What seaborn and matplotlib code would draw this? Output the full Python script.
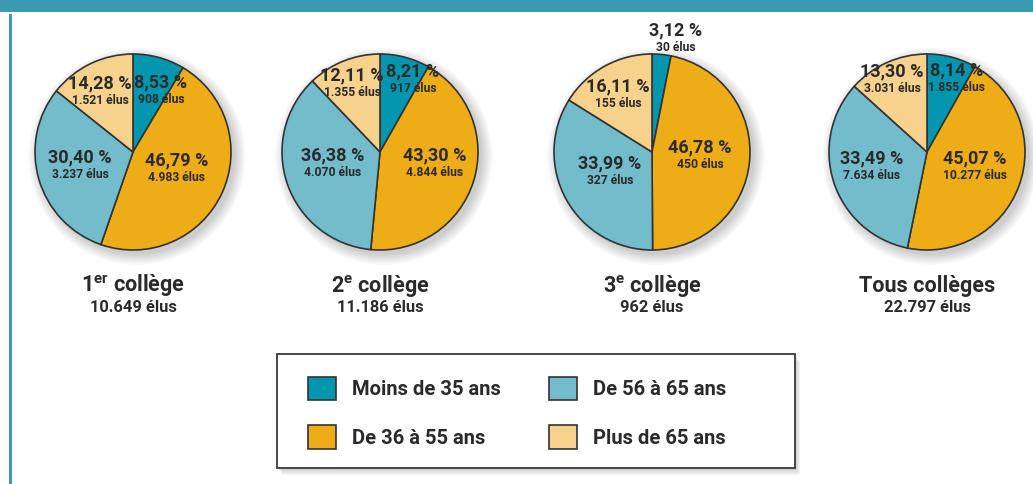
import matplotlib
matplotlib.use("Agg")
import matplotlib.pyplot as plt
from matplotlib.patches import Rectangle, Circle, Patch
import seaborn as sns

# ---------------- data ----------------
groups = ["Moins de 35 ans", "De 36 à 55 ans", "De 56 à 65 ans", "Plus de 65 ans"]
college_titles = ["1$^{\\mathrm{er}}$ collège", "2$^{\\mathrm{e}}$ collège",
                  "3$^{\\mathrm{e}}$ collège", "Tous collèges"]
college_totals = ["10.649 élus", "11.186 élus", "962 élus", "22.797 élus"]

pct_1 = [8.53, 46.79, 30.40, 14.28]
pct_2 = [8.21, 43.30, 36.38, 12.11]
pct_3 = [3.12, 46.78, 33.99, 16.11]
pct_4 = [8.14, 45.07, 33.49, 13.30]

elus_1 = ["908", "4.983", "3.237", "1.521"]
elus_2 = ["917", "4.844", "4.070", "1.355"]
elus_3 = ["30", "450", "327", "155"]
elus_4 = ["1.855", "10.277", "7.634", "3.031"]

pcts = [pct_1, pct_2, pct_3, pct_4]
elus = [elus_1, elus_2, elus_3, elus_4]

# ---------------- style ----------------
sns.set_theme(style="white")
colors = ["#0596AF", "#EEAC16", "#73BCCC", "#F6D28C"]
FAM = ["Roboto", "DejaVu Sans"]
plt.rcParams["font.family"] = FAM
plt.rcParams["mathtext.fontset"] = "custom"
plt.rcParams["mathtext.rm"] = "Roboto:bold"
plt.rcParams["mathtext.bf"] = "Roboto:bold"
plt.rcParams["mathtext.it"] = "Roboto:bold"
TXT = "#2a2a2a"
EDGE = "#333333"

W, H = 1033, 484
fig = plt.figure(figsize=(W / 100, H / 100), dpi=100)
fig.patch.set_facecolor("white")


def fx(x):
    return x / W


def fy(y):
    return 1 - y / H


# frame decoration
fig.patches.append(Rectangle((0, fy(12)), 1, 12 / H, transform=fig.transFigure,
                             facecolor="#3A9AB2", edgecolor="none", zorder=0))
fig.patches.append(Rectangle((fx(9), 0), 3 / W, fy(14), transform=fig.transFigure,
                             facecolor="#3A9AB2", edgecolor="none", zorder=0))

# layout
centers_x = [133, 380, 652, 927]
center_y = 152
R = 98  # px radius
half = 125  # half axes size px
# label offsets (px from centre) for percentage lines, order = groups
label_offsets = [
    [(28, -70), (44, 8), (-53, 5), (-33, -69)],
    [(33, -81), (55, 3), (-47, 3), (-28, -77)],
    [(24, -122), (48, -5), (-42, 11), (-34, -66)],
    [(30, -82), (48, 6), (-55, 6), (-35, -81)],
]

lim = half / R
for i in range(4):
    cx = centers_x[i]
    ax = fig.add_axes([fx(cx - half), fy(center_y + half), 2 * half / W, 2 * half / H])
    # soft shadow
    for k in range(10):
        ax.add_patch(Circle((0.04, -0.045), 1.0 + 0.012 * k, facecolor="black",
                            edgecolor="none", alpha=0.018, zorder=0))
    wedges, _ = ax.pie(pcts[i], colors=colors, startangle=90, counterclock=False,
                       radius=1.0,
                       wedgeprops=dict(edgecolor=EDGE, linewidth=1.2, zorder=2))
    ax.set_xlim(-lim, lim)
    ax.set_ylim(-lim, lim)
    ax.set_aspect("equal")
    ax.axis("off")
    for j in range(4):
        dx, dy = label_offsets[i][j]
        pct_txt = f"{pcts[i][j]:.2f}".replace(".", ",") + " %"
        ax.text(dx / R, -dy / R, pct_txt, ha="center", va="center", fontsize=13,
                fontweight="bold", color=TXT, zorder=5)
        ax.text(dx / R, -(dy + 17) / R, f"{elus[i][j]} élus", ha="center", va="center",
                fontsize=8.7, fontweight="bold", color=TXT, zorder=5)
    fig.text(fx(cx), fy(286), college_titles[i], ha="center", va="center",
             fontsize=15.5, fontweight="bold", color=TXT)
    fig.text(fx(cx), fy(308), college_totals[i], ha="center", va="center",
             fontsize=11.8, fontweight="bold", color=TXT)

# legend box with soft shadow
bx0, by0, bx1, by1 = 277, 354, 795, 468
for k in range(8):
    off = 2 + k
    fig.patches.append(Rectangle((fx(bx0 + off * 0.6), fy(by1 + off * 0.8)),
                                 (bx1 - bx0) / W, (by1 - by0) / H,
                                 transform=fig.transFigure, facecolor="black",
                                 edgecolor="none", alpha=0.025, zorder=1))
fig.patches.append(Rectangle((fx(bx0), fy(by1)), (bx1 - bx0) / W, (by1 - by0) / H,
                             transform=fig.transFigure, facecolor="white",
                             edgecolor="#3a3a3a", linewidth=1.3, zorder=2))

handles = [Patch(facecolor=c, edgecolor=EDGE, linewidth=1.2) for c in colors]
leg = fig.legend(handles, groups, ncol=2, frameon=False,
                 loc="upper left", bbox_to_anchor=(fx(308), fy(377)),
                 bbox_transform=fig.transFigure,
                 prop=dict(family=FAM, weight="bold", size=14.5),
                 handlelength=1.4, handleheight=1.4, handletextpad=0.8,
                 labelspacing=1.25, columnspacing=2.35, borderpad=0, borderaxespad=0)
leg.set_zorder(5)
for t in leg.get_texts():
    t.set_color(TXT)

fig.savefig("out.png", dpi=100, facecolor="white")
